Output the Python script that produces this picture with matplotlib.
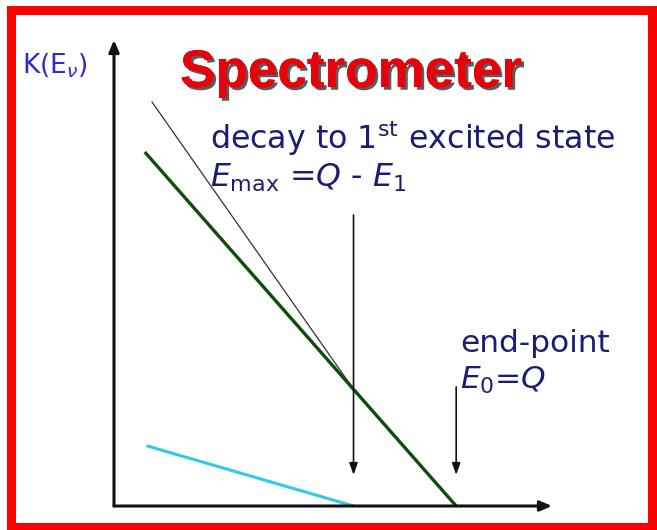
import matplotlib
matplotlib.use('Agg')
import matplotlib.pyplot as plt
import matplotlib.patheffects as pe
from matplotlib.patches import Rectangle

plt.rcParams['mathtext.fontset'] = 'dejavusans'

# energies in units where the end-point Q = 10
Q = 10.0
E_max = 7.0

# ground-state branch (green), excited-state branch (cyan), summed spectrum (thin black)
ground_E = [0.9, 10.0]
ground_K = [9.1, 0.0]
excited_E = [0.95, 7.0]
excited_K = [1.55, 0.0]
total_E = [1.1, 7.0]
total_K = [10.4, 3.0]

# vertical markers: (energy, top, bottom)
marker_E = [E_max, Q]
marker_top = [7.48, 3.06]
marker_bottom = [0.8, 0.8]

W, H = 657, 530
fig = plt.figure(figsize=(W / 100, H / 100), dpi=100)
fig.patch.set_facecolor('white')


def fx(px):
    return px / W


def fy(py):
    return 1 - py / H


ax = fig.add_axes([fx(114), fy(506), fx(552) - fx(114), fy(40) - fy(506)])
ax.set_xlim(0, 12.8)
ax.set_ylim(0, 11.98)
ax.axis('off')

# axes drawn as arrows
arrow_kw = dict(arrowstyle='-|>,head_length=0.7,head_width=0.3', color='#111111', lw=2.2,
                shrinkA=0, shrinkB=0)
ax.annotate('', xy=(1, 0), xytext=(0, 0), xycoords='axes fraction', arrowprops=arrow_kw)
ax.annotate('', xy=(0, 1), xytext=(0, 0), xycoords='axes fraction', arrowprops=arrow_kw)

ax.plot(total_E, total_K, color='#333333', lw=0.9, solid_capstyle='butt')
ax.plot(ground_E, ground_K, color='#0d4d0d', lw=2.4, solid_capstyle='butt')
ax.plot(excited_E, excited_K, color='#33c8e8', lw=2.2, solid_capstyle='butt')

for e, top, bot in zip(marker_E, marker_top, marker_bottom):
    ax.annotate('', xy=(e, bot), xytext=(e, top),
                arrowprops=dict(arrowstyle='-|>,head_length=0.7,head_width=0.25',
                                color='#111111', lw=1.2, shrinkA=0, shrinkB=0))

navy = '#1c1c78'
fs = 22.8
ax.text(2.8, 9.46, 'decay to 1$^{\\rm st}$ excited state', color=navy, fontsize=fs,
        family='DejaVu Sans', va='center', ha='left')
ax.text(2.8, 8.43, '$E_{\\rm max}$ =$Q$ - $E_{1}$', color=navy,
        fontsize=fs, va='center', ha='left')
ax.text(10.12, 4.19, 'end-point', color=navy, fontsize=22.5, va='center', ha='left')
ax.text(10.12, 3.24, '$E_{0}$=$Q$', color=navy, fontsize=22.5,
        va='center', ha='left')

fig.text(fx(22), fy(66), 'K(E$_{\\nu}$)', color='#2b2bd0', fontsize=19,
         va='center', ha='left')

title = fig.text(fx(180), fy(87), 'Spectrometer', color='#e8000a', fontsize=38.2,
                 family='Liberation Sans', weight='bold', va='baseline', ha='left')
title.set_path_effects([pe.withSimplePatchShadow(offset=(2, -2), shadow_rgbFace='#333333',
                                                 alpha=0.8), pe.Normal()])

fig.patches.append(Rectangle((fx(10.5), fy(526.5)), fx(651.5) - fx(10.5), fy(10) - fy(526.5),
                             transform=fig.transFigure, fill=False, edgecolor='#ff0000',
                             lw=6.5, zorder=10))

fig.savefig('out.png', dpi=100)
